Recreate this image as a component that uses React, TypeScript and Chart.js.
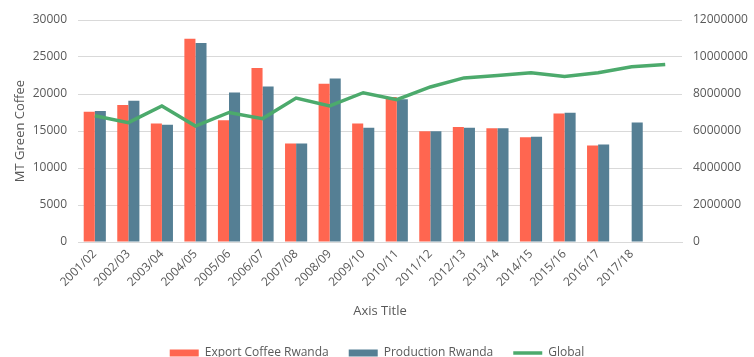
import React, { useEffect, useRef } from "react";
import { Chart, registerables } from "chart.js";

Chart.register(...registerables);

const seasons = [
  "2001/02", "2002/03", "2003/04", "2004/05", "2005/06", "2006/07",
  "2007/08", "2008/09", "2009/10", "2010/11", "2011/12", "2012/13",
  "2013/14", "2014/15", "2015/16", "2016/17", "2017/18", "",
];

const exportRwanda = [
  17600, 18500, 16000, 27450, 16450, 23500, 13320, 21400, 16000, 19600,
  14950, 15550, 15360, 14140, 17360, 13050, null, null,
];

const productionRwanda = [
  17700, 19100, 15860, 26900, 20200, 21000, 13300, 22100, 15450, 19300,
  14950, 15450, 15360, 14230, 17450, 13180, 16140, null,
];

const globalValues = [
  6820000, 6450000, 7350000, 6270000, 7000000, 6670000, 7780000, 7360000,
  8070000, 7690000, 8380000, 8870000, 9000000, 9150000, 8950000, 9150000,
  9470000, 9600000,
];

const leftTicksMax = 30000;
const leftTickStep = 5000;
const rightTicksMax = 12000000;
const rightTickStep = 2000000;

const FONT = "'Open Sans', 'Noto Sans', sans-serif";
const TEXT = "#595959";
const GRID = "#d9d9d9";
const RED = "#FF6650";
const BLUE = "#557F94";
const GREEN = "#4CAA6C";

const plain = (v: any) => String(v);

export default function App() {
  const ref = useRef<HTMLCanvasElement | null>(null);

  useEffect(() => {
    if (!ref.current) return;
    const chart = new Chart(ref.current, {
      type: "bar",
      data: {
        labels: seasons,
        datasets: [
          {
            type: "bar",
            label: "Export Coffee Rwanda",
            data: exportRwanda as any,
            backgroundColor: RED,
            yAxisID: "y",
            order: 1,
            pointStyle: "rect",
            categoryPercentage: 0.66,
            barPercentage: 1,
          } as any,
          {
            type: "bar",
            label: "Production Rwanda",
            data: productionRwanda as any,
            backgroundColor: BLUE,
            yAxisID: "y",
            order: 1,
            pointStyle: "rect",
            categoryPercentage: 0.66,
            barPercentage: 1,
          } as any,
          {
            type: "line",
            label: "Global",
            data: globalValues,
            borderColor: GREEN,
            backgroundColor: GREEN,
            borderWidth: 3.5,
            pointRadius: 0,
            pointStyle: "line",
            tension: 0,
            yAxisID: "y1",
            order: 0,
          } as any,
        ],
      },
      options: {
        animation: false,
        responsive: false,
        maintainAspectRatio: false,
        layout: { padding: { top: 20, left: 0, right: 0, bottom: -12 } },
        plugins: {
          tooltip: { enabled: false },
          legend: {
            position: "bottom",
            labels: {
              usePointStyle: true,
              pointStyleWidth: 29,
              boxHeight: 7,
              padding: 20,
              color: TEXT,
              font: { family: FONT, size: 12 },
              sort: (a: any, b: any) => a.datasetIndex - b.datasetIndex,
            },
          },
        },
        scales: {
          x: {
            grid: { display: false, drawTicks: false },
            border: { display: true, color: GRID, width: 1 },
            ticks: {
              color: TEXT,
              font: { family: FONT, size: 12 },
              minRotation: 45,
              maxRotation: 45,
              autoSkip: false,
              padding: 5,
            },
            title: {
              display: true,
              text: "Axis Title",
              color: TEXT,
              font: { family: FONT, size: 13 },
              padding: { top: 4, bottom: 8 },
            },
            afterFit: (s: any) => {
              s.height = 85;
            },
          },
          y: {
            position: "left",
            min: 0,
            max: leftTicksMax,
            grid: { color: GRID, drawTicks: false },
            border: { display: false },
            ticks: {
              stepSize: leftTickStep,
              color: TEXT,
              font: { family: FONT, size: 12 },
              padding: 11,
              callback: plain,
            },
            title: {
              display: true,
              text: "MT Green Coffee",
              color: TEXT,
              font: { family: FONT, size: 13 },
              padding: { top: 12, bottom: 0 },
            },
            afterFit: (s: any) => {
              s.width = 78;
            },
          },
          y1: {
            position: "right",
            min: 0,
            max: rightTicksMax,
            grid: { display: false, drawTicks: false },
            border: { display: false },
            ticks: {
              stepSize: rightTickStep,
              color: TEXT,
              font: { family: FONT, size: 12 },
              padding: 11,
              callback: plain,
            },
            afterFit: (s: any) => {
              s.width = 72;
            },
          },
        },
      } as any,
    });
    return () => chart.destroy();
  }, []);

  return (
    <div style={{ position: "absolute", left: 0, top: 0, width: 754, height: 357, background: "#fff" }}>
      <canvas ref={ref} width={754} height={357} style={{ width: 754, height: 357 }} />
    </div>
  );
}
